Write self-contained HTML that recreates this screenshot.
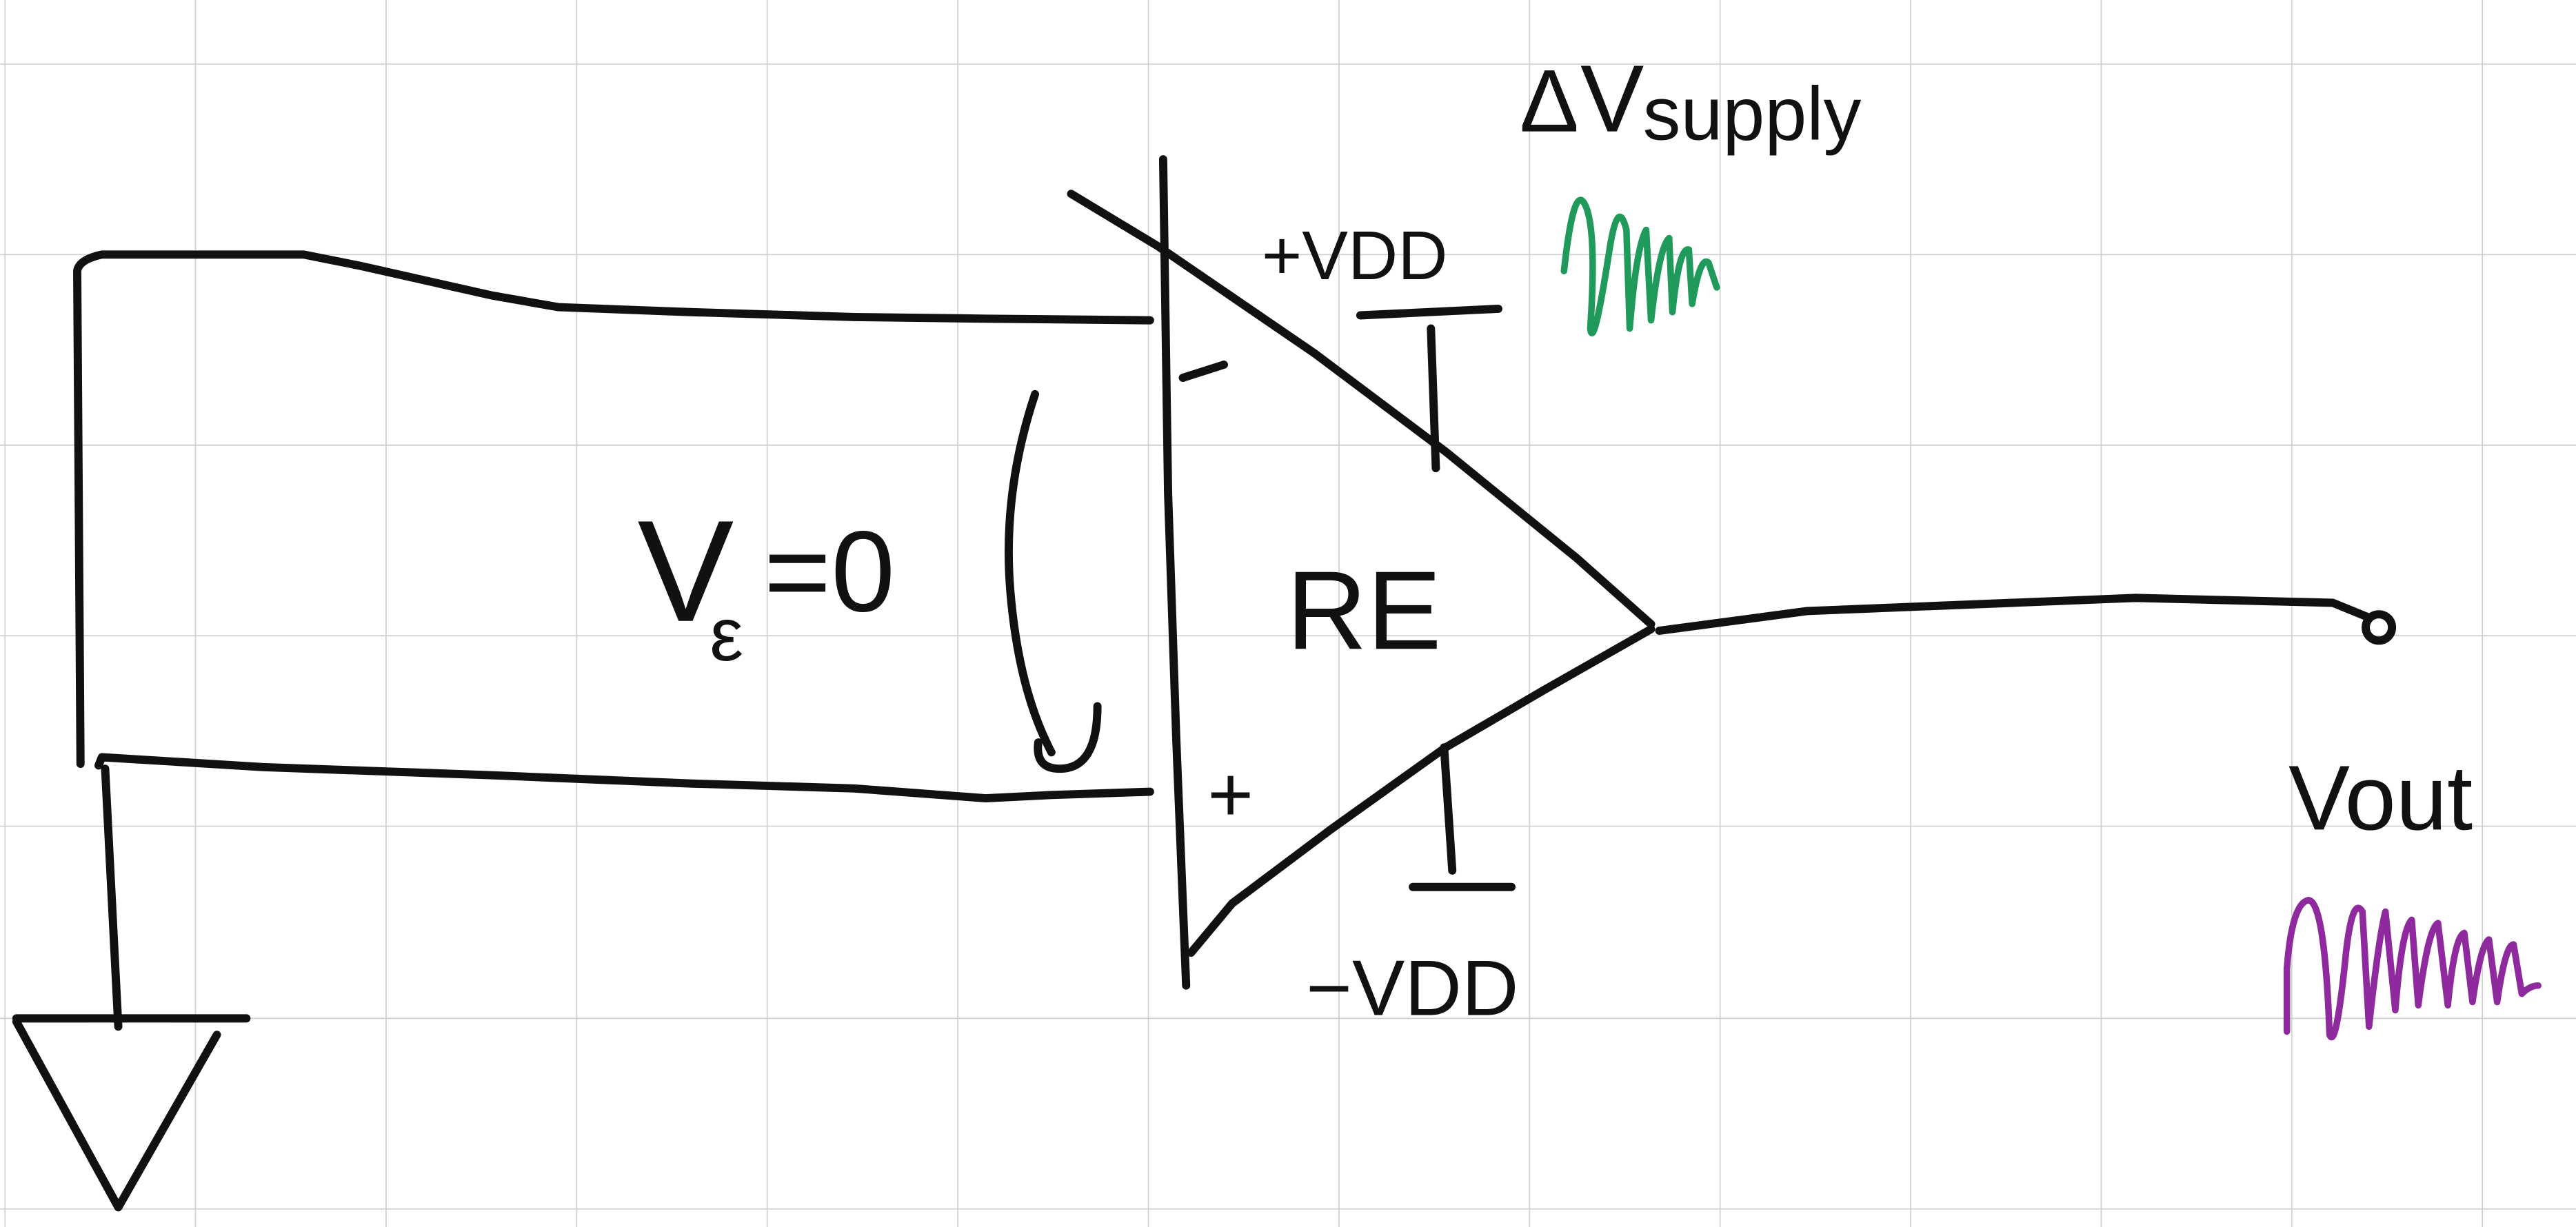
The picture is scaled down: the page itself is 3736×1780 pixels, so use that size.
<!DOCTYPE html>
<html><head><meta charset="utf-8"><style>
html,body{margin:0;padding:0;background:#fff;}
svg{display:block;}
text{font-family:"Liberation Sans",sans-serif;fill:#111;}
</style></head><body>
<svg width="3736" height="1780" viewBox="0 0 1568 747" preserveAspectRatio="none" xmlns="http://www.w3.org/2000/svg">
<rect width="1568" height="747" fill="#fff"/>
<g stroke="#cfcfd3" stroke-width="0.7">
<line x1="3" y1="0" x2="3" y2="747"/><line x1="119" y1="0" x2="119" y2="747"/><line x1="235" y1="0" x2="235" y2="747"/><line x1="351" y1="0" x2="351" y2="747"/><line x1="467" y1="0" x2="467" y2="747"/><line x1="583" y1="0" x2="583" y2="747"/><line x1="699" y1="0" x2="699" y2="747"/><line x1="815" y1="0" x2="815" y2="747"/><line x1="931" y1="0" x2="931" y2="747"/><line x1="1047" y1="0" x2="1047" y2="747"/><line x1="1163" y1="0" x2="1163" y2="747"/><line x1="1279" y1="0" x2="1279" y2="747"/><line x1="1395" y1="0" x2="1395" y2="747"/><line x1="1511" y1="0" x2="1511" y2="747"/>
<line x1="0" y1="39" x2="1568" y2="39"/><line x1="0" y1="155" x2="1568" y2="155"/><line x1="0" y1="271" x2="1568" y2="271"/><line x1="0" y1="387" x2="1568" y2="387"/><line x1="0" y1="503" x2="1568" y2="503"/><line x1="0" y1="620" x2="1568" y2="620"/><line x1="0" y1="736" x2="1568" y2="736"/>
</g>
<g fill="none" stroke="#111" stroke-width="5" stroke-linecap="round" stroke-linejoin="round">
<path d="M49,465 L47,165 Q48,158 62,155 L185,155 L220,162 L300,180 L340,187 L420,190 L520,193 L600,194 L700,195"/>
<path d="M60,466 L62,461 L160,467 L300,472 L420,477 L520,480 L600,486 L640,484 L700,482"/>
<path d="M64,468 L72,625"/>
<path d="M10,620 L150,620"/>
<path d="M10,622 L72,735 L132,630"/>
<path d="M708,97 L711,300 L716,450 L722,600"/>
<path d="M652,118 L705,150 L800,215 L880,275 L960,340 L1005,380"/>
<path d="M1005,383 L940,420 L880,455 L810,505 L750,550 L725,580"/>
<path d="M1010,384 L1100,372 L1300,364 L1420,367 L1442,376"/>
<circle cx="1448" cy="382" r="8"/>
<path d="M828,192 L912,188"/>
<path d="M871,200 L874,285"/>
<path d="M720,230 L745,222"/>
<path d="M879,455 L884,530"/>
<path d="M860,540 L920,540"/>
<path d="M630,240 Q610,300 615,360 Q620,420 640,458"/>
<path d="M632,452 Q630,468 645,468 Q668,468 668,430"/>
</g>
<text x="768" y="170" font-size="42">+VDD</text>
<text x="735" y="500" font-size="48">+</text>
<text x="783" y="395" font-size="68">RE</text>
<text x="388" y="378" font-size="88">V</text>
<text x="432" y="402" font-size="46">ε</text>
<text x="465" y="372" font-size="70">=0</text>
<text x="795" y="618" font-size="48">−VDD</text>
<text x="925" y="80" font-size="54">Δ</text>
<text x="962" y="80" font-size="58">V</text>
<text x="1000" y="85" font-size="46">supply</text>
<text x="1393" y="505" font-size="56">Vout</text>
<path d="M952,165 Q958,110 965,125 Q972,140 968,200 Q970,215 980,150 Q985,120 990,140 L992,200 Q996,150 1002,140 L1005,195 Q1010,150 1016,145 L1018,190 Q1022,150 1028,152 L1030,185 Q1035,155 1040,160 L1045,175" fill="none" stroke="#1f9a5a" stroke-width="4" stroke-linecap="round" stroke-linejoin="round"/>
<path d="M1392,628 L1392,590 Q1395,550 1405,548 Q1415,548 1418,630 Q1422,640 1428,580 Q1432,545 1438,555 L1442,625 Q1448,570 1452,555 L1458,615 Q1462,565 1468,560 L1472,612 Q1478,565 1484,562 L1490,612 Q1494,570 1500,568 L1505,610 Q1510,575 1515,572 L1520,610 Q1525,575 1530,575 L1535,605 Q1540,600 1545,600" fill="none" stroke="#8e2a9e" stroke-width="4" stroke-linecap="round" stroke-linejoin="round"/>
</svg>
</body></html>
